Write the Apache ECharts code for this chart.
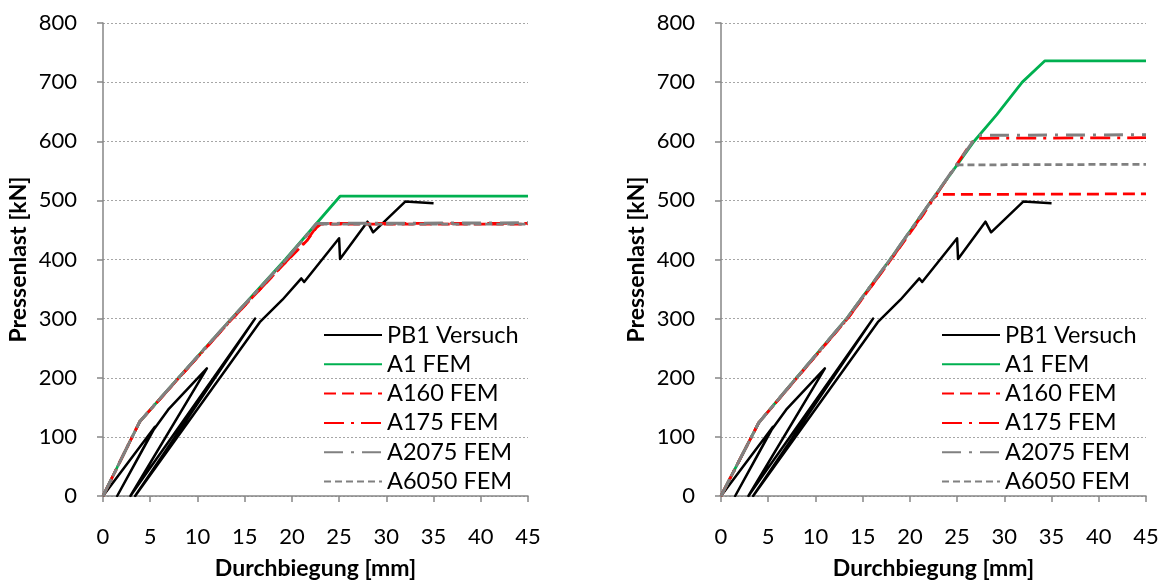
<!DOCTYPE html>
<html>
<head>
<meta charset="utf-8">
<title>Pressenlast – Durchbiegung</title>
<script src="https://cdn.jsdelivr.net/npm/echarts@6/dist/echarts.min.js"></script>
<style>
  html, body { margin: 0; padding: 0; background: #ffffff; }
  #chart { width: 1162px; height: 581px; }
</style>
</head>
<body>
<div id="chart"></div>
<script>
// Axis ranges and tick steps
const xRange = [0, 45], xStep = 5;
const yRange = [0, 800], yStep = 100;

const seriesNames = ['PB1 Versuch', 'A1 FEM', 'A160 FEM', 'A175 FEM', 'A2075 FEM', 'A6050 FEM'];

// Test curve PB1 (deflection mm, load kN), with unloading / reloading cycles
const pb1Versuch = [
  [0, 0], [5.5, 117], [1.5, 0], [5.4, 113], [6.9, 146], [11.0, 216],
  [2.9, 0], [3.1, 0], [16.1, 300], [3.4, 0], [3.6, 0], [16.6, 294],
  [19.0, 332], [21.0, 368], [21.3, 362], [25.0, 436], [25.1, 401],
  [28.0, 464], [28.6, 446], [32.0, 498], [35.0, 495]
];

// FEM results, left diagram
const a1Left    = [[0, 0], [3.9, 126], [8.0, 200], [13.6, 300], [19.3, 400], [25.1, 507], [45, 507]];
const a160Left  = [[0, 0], [3.9, 126], [8.0, 199], [13.7, 300], [19.6, 400], [21.6, 432], [22.6, 454], [23.1, 460], [45, 460]];
const a175Left  = [[0, 0], [3.9, 126], [8.0, 199], [13.7, 300], [19.6, 400], [21.6, 433], [22.6, 455], [23.1, 461], [45, 461]];
const a2075Left = [[0, 0], [3.9, 126], [8.0, 200], [13.6, 300], [19.4, 400], [22.6, 461], [45, 462]];
const a6050Left = [[0, 0], [3.9, 126], [8.0, 200], [13.6, 300], [19.4, 400], [22.6, 460], [45, 460]];

// FEM results, right diagram
const a1Right    = [[0, 0], [4.0, 124], [8.0, 200], [13.3, 300], [17.9, 400], [22.3, 500], [26.8, 600], [29.2, 645], [31.9, 700], [34.3, 736], [45, 736]];
const a160Right  = [[0, 0], [4.0, 124], [8.0, 199], [13.4, 300], [18.0, 400], [21.5, 478], [22.4, 502], [23.0, 510], [45, 511]];
const a175Right  = [[0, 0], [4.0, 124], [8.0, 199], [13.4, 300], [18.0, 400], [22.4, 500], [26.4, 595], [27.0, 605], [45, 606]];
const a2075Right = [[0, 0], [4.0, 124], [8.0, 200], [13.3, 300], [17.9, 400], [22.3, 500], [26.9, 605], [27.3, 610], [45, 611]];
const a6050Right = [[0, 0], [4.0, 124], [8.0, 200], [13.3, 300], [17.9, 400], [22.3, 500], [24.9, 558], [25.2, 560], [45, 561]];

const panels = [
  { left: 103, data: [pb1Versuch, a1Left, a160Left, a175Left, a2075Left, a6050Left] },
  { left: 721, data: [pb1Versuch, a1Right, a160Right, a175Right, a2075Right, a6050Right] }
];

const styles = [
  { color: '#000000', width: 2.5, type: 'solid' },
  { color: '#00B050', width: 2.75, type: 'solid' },
  { color: '#FF0000', width: 2.75, type: [12, 6] },
  { color: '#FF0000', width: 2.75, type: [20, 7, 3, 7] },
  { color: '#808080', width: 3, type: [19, 8, 3, 8] },
  { color: '#808080', width: 2.75, type: [7, 4] }
];

const FONT = 'Lato, "Open Sans", sans-serif';
const axisGray = '#868686';

const grids = [], xAxes = [], yAxes = [], series = [], legends = [];

panels.forEach((p, i) => {
  grids.push({ left: p.left, top: 23, width: 425, height: 473, outerBoundsMode: 'none', containLabel: false });
  xAxes.push({
    gridIndex: i, type: 'value', min: xRange[0], max: xRange[1], interval: xStep,
    name: 'Durchbiegung [mm]', nameLocation: 'middle', nameGap: 61,
    nameTextStyle: { fontFamily: FONT, fontWeight: 'bold', fontSize: 23, color: '#000' },
    axisLine: { show: true, lineStyle: { color: axisGray, width: 1.5 } },
    axisTick: { show: true, length: 6, lineStyle: { color: axisGray, width: 1.5 } },
    axisLabel: { margin: 30, fontFamily: FONT, fontSize: 22, color: '#000' },
    splitLine: { show: false }
  });
  yAxes.push({
    gridIndex: i, type: 'value', min: yRange[0], max: yRange[1], interval: yStep,
    name: 'Pressenlast [kN]', nameLocation: 'middle', nameGap: 73,
    nameTextStyle: { fontFamily: FONT, fontWeight: 'bold', fontSize: 23, color: '#000' },
    axisLine: { show: true, lineStyle: { color: axisGray, width: 1.5 } },
    axisTick: { show: true, length: 6, lineStyle: { color: axisGray, width: 1.5 } },
    axisLabel: { margin: 26, fontFamily: FONT, fontSize: 22, color: '#000' },
    splitLine: { show: true, lineStyle: { color: '#a6a6a6', width: 1, type: [2, 2] } }
  });
  p.data.forEach((d, k) => {
    const s = styles[k];
    series.push({
      name: seriesNames[k], type: 'line', xAxisIndex: i, yAxisIndex: i,
      data: d, symbol: 'none', showSymbol: false, animation: false,
      lineStyle: { color: s.color, width: s.width, type: s.type, cap: 'butt', join: 'round' },
      itemStyle: { color: s.color },
      z: 2 + k
    });
  });
  legends.push({
    orient: 'vertical', left: p.left + 220, top: 323, padding: 0,
    data: seriesNames, itemWidth: 58, itemHeight: 14, itemGap: 5.3, itemTextGap: 6,
    selectedMode: false,
    itemStyle: { opacity: 0 },
    textStyle: { fontFamily: FONT, fontSize: 23.5, color: '#000' }
  });
});

const chart = echarts.init(document.getElementById('chart'), null, { renderer: 'canvas' });
chart.setOption({
  backgroundColor: '#ffffff',
  animation: false,
  grid: grids,
  xAxis: xAxes,
  yAxis: yAxes,
  legend: legends,
  series: series
});
</script>
</body>
</html>
